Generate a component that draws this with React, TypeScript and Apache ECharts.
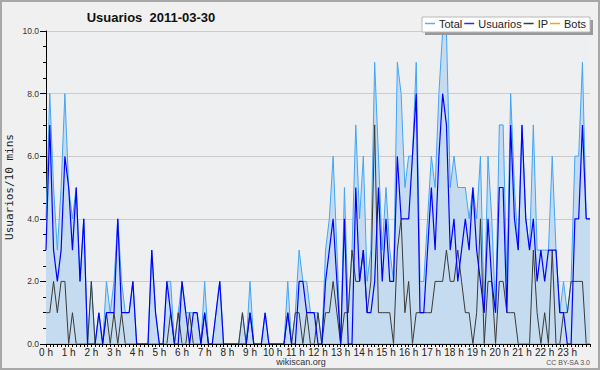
import React, { useEffect, useRef } from "react";
import * as echarts from "echarts";

const hourLabels = [
  "0 h", "1 h", "2 h", "3 h", "4 h", "5 h", "6 h", "7 h", "8 h", "9 h", "10 h", "11 h",
  "12 h", "13 h", "14 h", "15 h", "16 h", "17 h", "18 h", "19 h", "20 h", "21 h", "22 h", "23 h",
];

const totalValues = [
  4, 8, 5, 3, 5, 8, 5, 4, 5, 2,
  4, 0, 2, 0, 1, 0, 2, 1, 2, 4,
  2, 1, 1, 2, 0, 0, 0, 0, 3, 1,
  0, 0, 2, 2, 0, 1, 2, 1, 1, 1,
  1, 0, 2, 0, 0, 1, 2, 0, 0, 0,
  0, 0, 1, 0, 2, 0, 0, 0, 1, 0,
  0, 0, 0, 0, 2, 0, 1, 3, 2, 2,
  1, 1, 1, 0, 3, 4, 6, 3, 0, 5,
  1, 3, 7, 4, 6, 2, 3, 9, 6, 3,
  5, 3, 2, 9, 8, 5, 6, 6, 9, 2,
  2, 4, 6, 5, 8, 10, 10, 5, 6, 5,
  5, 5, 4, 5, 4, 6, 1, 6, 4, 1,
  7, 7, 2, 8, 5, 3, 7, 4, 3, 7,
  3, 3, 3, 3, 6, 3, 1, 2, 1, 2,
  6, 6, 9, 4, 4,
];

const usuariosValues = [
  3, 7, 3, 2, 3, 6, 5, 3, 5, 2,
  4, 0, 0, 0, 1, 0, 1, 1, 1, 4,
  1, 1, 1, 2, 0, 0, 0, 0, 3, 1,
  0, 0, 2, 1, 0, 0, 2, 1, 0, 1,
  1, 0, 1, 0, 0, 1, 2, 0, 0, 0,
  0, 0, 0, 0, 1, 0, 0, 0, 1, 0,
  0, 0, 0, 0, 1, 0, 0, 2, 2, 1,
  1, 1, 0, 0, 2, 3, 4, 2, 0, 4,
  0, 0, 5, 2, 3, 1, 1, 2, 5, 2,
  4, 2, 2, 6, 4, 4, 4, 6, 8, 1,
  1, 3, 5, 3, 6, 8, 7, 3, 4, 2,
  3, 4, 3, 5, 3, 2, 1, 4, 2, 1,
  5, 5, 1, 7, 4, 3, 7, 4, 3, 4,
  2, 3, 2, 3, 3, 3, 1, 1, 0, 0,
  4, 4, 7, 4, 4,
];

const ipValues = [
  1, 1, 2, 1, 2, 2, 0, 1, 0, 0,
  0, 0, 2, 0, 0, 0, 1, 0, 1, 0,
  1, 0, 0, 0, 0, 0, 0, 0, 0, 0,
  0, 0, 0, 1, 0, 1, 0, 0, 1, 0,
  0, 0, 1, 0, 0, 0, 0, 0, 0, 0,
  0, 0, 1, 0, 1, 0, 0, 0, 0, 0,
  0, 0, 0, 0, 1, 0, 1, 1, 0, 1,
  0, 0, 1, 0, 1, 1, 2, 1, 0, 1,
  1, 3, 2, 2, 3, 1, 2, 7, 1, 1,
  1, 1, 0, 3, 4, 1, 2, 0, 1, 1,
  1, 1, 1, 2, 2, 2, 3, 2, 2, 3,
  2, 1, 1, 0, 1, 4, 0, 2, 2, 0,
  2, 2, 1, 1, 1, 0, 0, 0, 0, 3,
  1, 0, 1, 0, 3, 0, 0, 1, 1, 2,
  2, 2, 2, 0, 0,
];

const botsValues = [
  0, 0, 0, 0, 0, 0, 0, 0, 0, 0,
  0, 0, 0, 0, 0, 0, 0, 0, 0, 0,
  0, 0, 0, 0, 0, 0, 0, 0, 0, 0,
  0, 0, 0, 0, 0, 0, 0, 0, 0, 0,
  0, 0, 0, 0, 0, 0, 0, 0, 0, 0,
  0, 0, 0, 0, 0, 0, 0, 0, 0, 0,
  0, 0, 0, 0, 0, 0, 0, 0, 0, 0,
  0, 0, 0, 0, 0, 0, 0, 0, 0, 0,
  0, 0, 0, 0, 0, 0, 0, 0, 0, 0,
  0, 0, 0, 0, 0, 0, 0, 0, 0, 0,
  0, 0, 0, 0, 0, 0, 0, 0, 0, 0,
  0, 0, 0, 0, 0, 0, 0, 0, 0, 0,
  0, 0, 0, 0, 0, 0, 0, 0, 0, 0,
  0, 0, 0, 0, 0, 0, 0, 0, 0, 0,
  0, 0, 0, 0, 0,
];

const categories = totalValues.map((_, i) => {
  const h = Math.floor(i / 6);
  const m = (i % 6) * 10;
  return `${String(h).padStart(2, "0")}:${String(m).padStart(2, "0")}`;
});

const FONT = "Liberation Sans, Arial, sans-serif";

export default function App() {
  const ref = useRef<HTMLDivElement>(null);
  useEffect(() => {
    if (!ref.current) return;
    const chart = echarts.init(ref.current, undefined, { renderer: "svg" });
    chart.setOption({
      animation: false,
      backgroundColor: "#f0f0f0",
      grid: {
        left: 46,
        right: 10,
        top: 31,
        bottom: 26,
        show: true,
        backgroundColor: "#eeeff1",
        borderWidth: 0,
        containLabel: false,
        outerBoundsMode: "none",
      },
      graphic: [
        {
          type: "rect",
          shape: { x: 1, y: 1, width: 598, height: 368 },
          style: { fill: "none", stroke: "#a8a8a8", lineWidth: 2 },
          silent: true,
        },
        {
          type: "text",
          x: 151,
          y: 17,
          style: {
            text: "Usuarios  2011-03-30",
            fontFamily: FONT,
            fontWeight: "bold",
            fontSize: 13,
            fill: "#111",
            align: "center",
            verticalAlign: "middle",
          },
        },
        {
          type: "text",
          x: 9,
          y: 187,
          rotation: Math.PI / 2,
          style: {
            text: "Usuarios/10 mins",
            fontFamily: "DejaVu Sans Mono, monospace",
            fontSize: 11,
            fill: "#222",
            align: "center",
            verticalAlign: "middle",
          },
        },
        {
          type: "text",
          x: 301,
          y: 362,
          style: {
            text: "wikiscan.org",
            fontFamily: FONT,
            fontSize: 9,
            fill: "#333",
            align: "center",
            verticalAlign: "middle",
          },
        },
        {
          type: "text",
          x: 590,
          y: 362,
          style: {
            text: "CC BY-SA 3.0",
            fontFamily: FONT,
            fontSize: 7,
            fill: "#555",
            align: "right",
            verticalAlign: "middle",
          },
        },
        {
          type: "rect",
          z: 3,
          shape: { x: 425, y: 20, width: 168, height: 15 },
          style: { fill: "#999999" },
        },
        {
          type: "rect",
          z: 3,
          shape: { x: 422, y: 17, width: 168, height: 15 },
          style: { fill: "#ffffff", stroke: "#b8b8b8", lineWidth: 1 },
        },
      ],
      legend: {
        left: 425,
        top: 18,
        z: 5,
        padding: 0,
        itemGap: 2,
        itemWidth: 10,
        itemHeight: 1.5,
        icon: "rect",
        data: ["Total", "Usuarios", "IP", "Bots"],
        textStyle: { fontFamily: FONT, fontSize: 11, color: "#222", padding: [1, 0, 0, -1] },
      },
      xAxis: {
        type: "category",
        boundaryGap: false,
        data: categories,
        z: 5,
        axisLine: { lineStyle: { color: "#000", width: 1 } },
        axisTick: { interval: 0, length: 3, lineStyle: { color: "#000" } },
        axisLabel: {
          interval: (index: number) => index % 6 === 0 && index < 144,
          formatter: (_v: string, index: number) => hourLabels[Math.floor(index / 6)] || "",
          fontFamily: FONT,
          fontSize: 10,
          color: "#222",
          margin: 3,
        },
        splitLine: { show: false },
      },
      yAxis: {
        type: "value",
        min: 0,
        max: 10,
        interval: 2,
        axisLine: { show: true, lineStyle: { color: "#000", width: 1 } },
        axisTick: { show: true, length: 6, lineStyle: { color: "#000" } },
        minorTick: { show: true, splitNumber: 4, length: 3, lineStyle: { color: "#000" } },
        axisLabel: {
          formatter: (v: number) => v.toFixed(1),
          fontFamily: FONT,
          fontSize: 8.5,
          color: "#333",
          margin: 7,
        },
        splitLine: { lineStyle: { color: "#cccccc", width: 1 } },
      },
      series: [
        {
          name: "Total",
          type: "line",
          data: totalValues,
          symbol: "none",
          z: 1,
          lineStyle: { color: "#42a5f5", width: 1 },
          itemStyle: { color: "#5aaef5" },
          areaStyle: { color: "#c5dcf0", opacity: 1 },
        },
        {
          name: "IP",
          type: "line",
          data: ipValues,
          symbol: "none",
          z: 2,
          lineStyle: { color: "#3a3a3a", width: 1 },
          itemStyle: { color: "#3a3a3a" },
        },
        {
          name: "Usuarios",
          type: "line",
          data: usuariosValues,
          symbol: "none",
          z: 3,
          lineStyle: { color: "#0000ff", width: 1.2 },
          itemStyle: { color: "#2828ff" },
        },
        {
          name: "Bots",
          type: "line",
          data: botsValues,
          symbol: "none",
          z: 2,
          lineStyle: { color: "#ffa500", width: 1 },
          itemStyle: { color: "#ffa500" },
        },
      ],
    });
    return () => chart.dispose();
  }, []);
  return (
    <div
      ref={ref}
      style={{ position: "absolute", left: 0, top: 0, width: 600, height: 370 }}
    />
  );
}
